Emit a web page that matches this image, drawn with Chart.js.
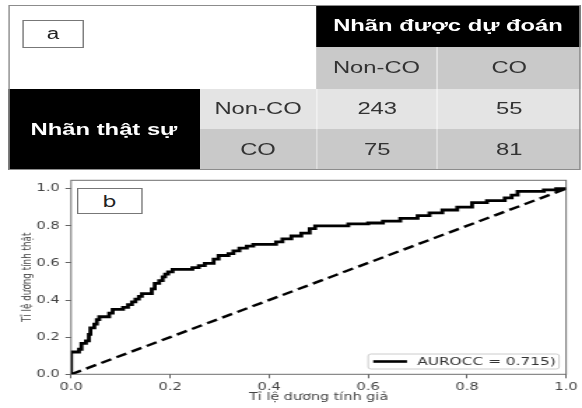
<!DOCTYPE html>
<html>
<head>
<meta charset="utf-8">
<script src="https://cdn.jsdelivr.net/npm/chart.js@4.4.1/dist/chart.umd.min.js"></script>
<style>
  body { margin: 0; width: 582px; height: 408px; overflow: hidden; background: #fff; }
  #wrap { position: absolute; left: 0; top: 0; width: 416px; height: 408px;
          transform: scaleX(1.399); transform-origin: 0 0; }
  .c { position: absolute; box-sizing: border-box; display: flex; align-items: center;
       justify-content: center; font-family: "Liberation Sans", Arial, sans-serif;
       font-size: 17px; color: #333; }
  .blk { background: #000; color: #fff; font-weight: bold; }
  .g1 { background: #c9c9c9; }
  .g2 { background: #e4e4e4; }
  .tag { position: absolute; box-sizing: border-box; border: 1px solid #777; background: #fff;
         display: flex; align-items: center; justify-content: center; font-size: 16px; color: #222; }
</style>
</head>
<body>
<div id="wrap">
  <!-- confusion matrix (a) -->
  <div class="c" style="left:5.7px;top:5px;width:220.2px;height:84px;background:#fff"></div>
  <div class="c blk" style="left:225.9px;top:5px;width:188.7px;height:42px">Nhãn được dự đoán</div>
  <div class="c g1" style="left:225.9px;top:47px;width:86.5px;height:42px">Non-CO</div>
  <div class="c g1" style="left:312.4px;top:47px;width:102.2px;height:42px;border-left:1px solid #e6e6e6">CO</div>
  <div class="c blk" style="left:5.7px;top:89px;width:137.3px;height:81px">Nhãn thật sự</div>
  <div class="c g2" style="left:143px;top:89px;width:82.9px;height:40px">Non-CO</div>
  <div class="c g2" style="left:225.9px;top:89px;width:86.5px;height:40px;border-left:1px solid #f2f2f2">243</div>
  <div class="c g2" style="left:312.4px;top:89px;width:102.2px;height:40px;border-left:1px solid #f2f2f2">55</div>
  <div class="c g1" style="left:143px;top:129px;width:82.9px;height:41px">CO</div>
  <div class="c g1" style="left:225.9px;top:129px;width:86.5px;height:41px;border-left:1px solid #e0e0e0">75</div>
  <div class="c g1" style="left:312.4px;top:129px;width:102.2px;height:41px;border-left:1px solid #e0e0e0">81</div>
  <div style="position:absolute;left:5.7px;top:5px;width:408.9px;height:165px;border:1px solid #8c8c8c;box-sizing:border-box"></div>
  <div class="tag" style="left:15.7px;top:20px;width:44.3px;height:28px;font-family:'Liberation Sans',Arial,sans-serif">a</div>

  <!-- ROC curve (b) -->
  <canvas id="roc" width="416" height="238" style="position:absolute;left:0;top:170px;width:416px;height:238px"></canvas>
  <div class="tag" style="left:55px;top:188px;width:46.5px;height:26px;font-family:'DejaVu Sans',sans-serif">b</div>
</div>

<script>
// ROC curve points
var fpr = [0, 0, 0.016, 0.016, 0.021, 0.021, 0.030, 0.030, 0.036, 0.036, 0.039, 0.039, 0.047, 0.047,
  0.052, 0.052, 0.057, 0.057, 0.077, 0.077, 0.084, 0.084, 0.105, 0.105, 0.115, 0.115, 0.123, 0.123,
  0.130, 0.130, 0.137, 0.137, 0.143, 0.143, 0.163, 0.163, 0.169, 0.169, 0.178, 0.178, 0.185, 0.185,
  0.190, 0.190, 0.196, 0.196, 0.205, 0.205, 0.245, 0.245, 0.258, 0.258, 0.270, 0.270, 0.288, 0.288,
  0.298, 0.298, 0.318, 0.318, 0.328, 0.328, 0.340, 0.340, 0.355, 0.355, 0.368, 0.368, 0.414, 0.414,
  0.427, 0.427, 0.445, 0.445, 0.465, 0.465, 0.482, 0.482, 0.493, 0.493, 0.560, 0.560, 0.600, 0.600,
  0.630, 0.630, 0.665, 0.665, 0.700, 0.700, 0.724, 0.724, 0.750, 0.750, 0.780, 0.780, 0.810, 0.810,
  0.840, 0.840, 0.876, 0.876, 0.890, 0.890, 0.902, 0.902, 0.955, 0.955, 0.980, 0.980, 1.0];
var tpr = [0, 0.120, 0.120, 0.135, 0.135, 0.167, 0.167, 0.180, 0.180, 0.215, 0.215, 0.250, 0.250, 0.270,
  0.270, 0.295, 0.295, 0.310, 0.310, 0.330, 0.330, 0.350, 0.350, 0.360, 0.360, 0.375, 0.375, 0.390,
  0.390, 0.405, 0.405, 0.420, 0.420, 0.435, 0.435, 0.460, 0.460, 0.490, 0.490, 0.505, 0.505, 0.525,
  0.525, 0.540, 0.540, 0.552, 0.552, 0.565, 0.565, 0.575, 0.575, 0.585, 0.585, 0.597, 0.597, 0.620,
  0.620, 0.640, 0.640, 0.650, 0.650, 0.665, 0.665, 0.680, 0.680, 0.690, 0.690, 0.700, 0.700, 0.713,
  0.713, 0.730, 0.730, 0.745, 0.745, 0.760, 0.760, 0.785, 0.785, 0.800, 0.800, 0.810, 0.810, 0.815,
  0.815, 0.825, 0.825, 0.840, 0.840, 0.855, 0.855, 0.870, 0.870, 0.885, 0.885, 0.900, 0.900, 0.925,
  0.925, 0.935, 0.935, 0.950, 0.950, 0.965, 0.965, 0.985, 0.985, 0.993, 0.993, 1.0, 1.0];
var chanceX = [0, 1];
var chanceY = [0, 1];
var xTicks = [0, 0.2, 0.4, 0.6, 0.8, 1.0];
var yTicks = [0, 0.2, 0.4, 0.6, 0.8, 1.0];
var rocLabel = "AUROCC = 0.715)";

Chart.defaults.font.family = "'DejaVu Sans', sans-serif";
Chart.defaults.color = "#444";

function pts(xs, ys) {
  return xs.map(function (x, i) { return { x: x, y: ys[i] }; });
}

// axes frame on all four sides
var framePlugin = {
  id: "frame",
  beforeDatasetsDraw: function (chart) {
    var a = chart.chartArea, ctx = chart.ctx;
    ctx.save();
    ctx.strokeStyle = "#6e6e6e";
    ctx.lineWidth = 1;
    ctx.strokeRect(a.left, a.top, a.right - a.left, a.bottom - a.top);
    ctx.restore();
  }
};

// matplotlib-like legend in the lower right corner
var legendBox = {
  id: "legendBox",
  afterDraw: function (chart) {
    var a = chart.chartArea, ctx = chart.ctx;
    var w = 136.5, h = 15;
    var x = a.right - 5 - w, y = a.bottom - 5.3 - h;
    ctx.save();
    ctx.fillStyle = "rgba(255,255,255,0.85)";
    ctx.strokeStyle = "#cccccc";
    ctx.lineWidth = 1;
    ctx.beginPath();
    ctx.roundRect(x, y, w, h, 2);
    ctx.fill();
    ctx.stroke();
    ctx.strokeStyle = "#000";
    ctx.lineWidth = 2.6;
    ctx.beginPath();
    ctx.moveTo(x + 3.6, y + h / 2);
    ctx.lineTo(x + 27.8, y + h / 2);
    ctx.stroke();
    ctx.fillStyle = "#333";
    ctx.font = "11px 'DejaVu Sans'";
    ctx.textBaseline = "middle";
    ctx.fillText(chart.data.datasets[0].label, x + 35, y + h / 2 + 0.5);
    ctx.restore();
  }
};

new Chart(document.getElementById("roc"), {
  type: "line",
  data: {
    datasets: [
      { label: rocLabel, data: pts(fpr, tpr), borderColor: "#000", borderWidth: 2.8,
        pointRadius: 0, tension: 0, fill: false },
      { label: "chance", data: pts(chanceX, chanceY), borderColor: "#000", borderWidth: 2.4,
        borderDash: [8, 4.2], pointRadius: 0, fill: false }
    ]
  },
  options: {
    responsive: false,
    animation: false,
    devicePixelRatio: 1,
    layout: { autoPadding: false, padding: { left: 0, top: 10, right: 4.3, bottom: 0 } },
    plugins: { legend: { display: false }, tooltip: { enabled: false } },
    scales: {
      x: {
        type: "linear", min: 0, max: 1,
        afterFit: function (s) { s.height = 33.7; },
        afterBuildTicks: function (s) { s.ticks = xTicks.map(function (v) { return { value: v }; }); },
        ticks: { font: { size: 10.5 }, padding: 3, maxRotation: 0,
                 callback: function (v) { return v.toFixed(1); } },
        grid: { display: true, drawOnChartArea: false, tickLength: 4, color: "#666" },
        border: { display: false },
        title: { display: true, text: "Tỉ lệ dương tính giả", font: { size: 10.3 }, color: "#444",
                 padding: { top: 0, bottom: 4 } }
      },
      y: {
        type: "linear", min: 0, max: 1.045,
        afterFit: function (s) { s.width = 50.8; },
        afterBuildTicks: function (s) { s.ticks = yTicks.map(function (v) { return { value: v }; }); },
        ticks: { font: { size: 10.5 }, padding: 4,
                 callback: function (v) { return v.toFixed(1); } },
        grid: { display: true, drawOnChartArea: false, tickLength: 4, color: "#666" },
        border: { display: false },
        title: { display: true, text: "Tỉ lệ dương tính thật", font: { size: 8.8 }, color: "#444",
                 padding: { top: 14.5, bottom: 0 } }
      }
    }
  },
  plugins: [framePlugin, legendBox]
});
</script>
</body>
</html>
